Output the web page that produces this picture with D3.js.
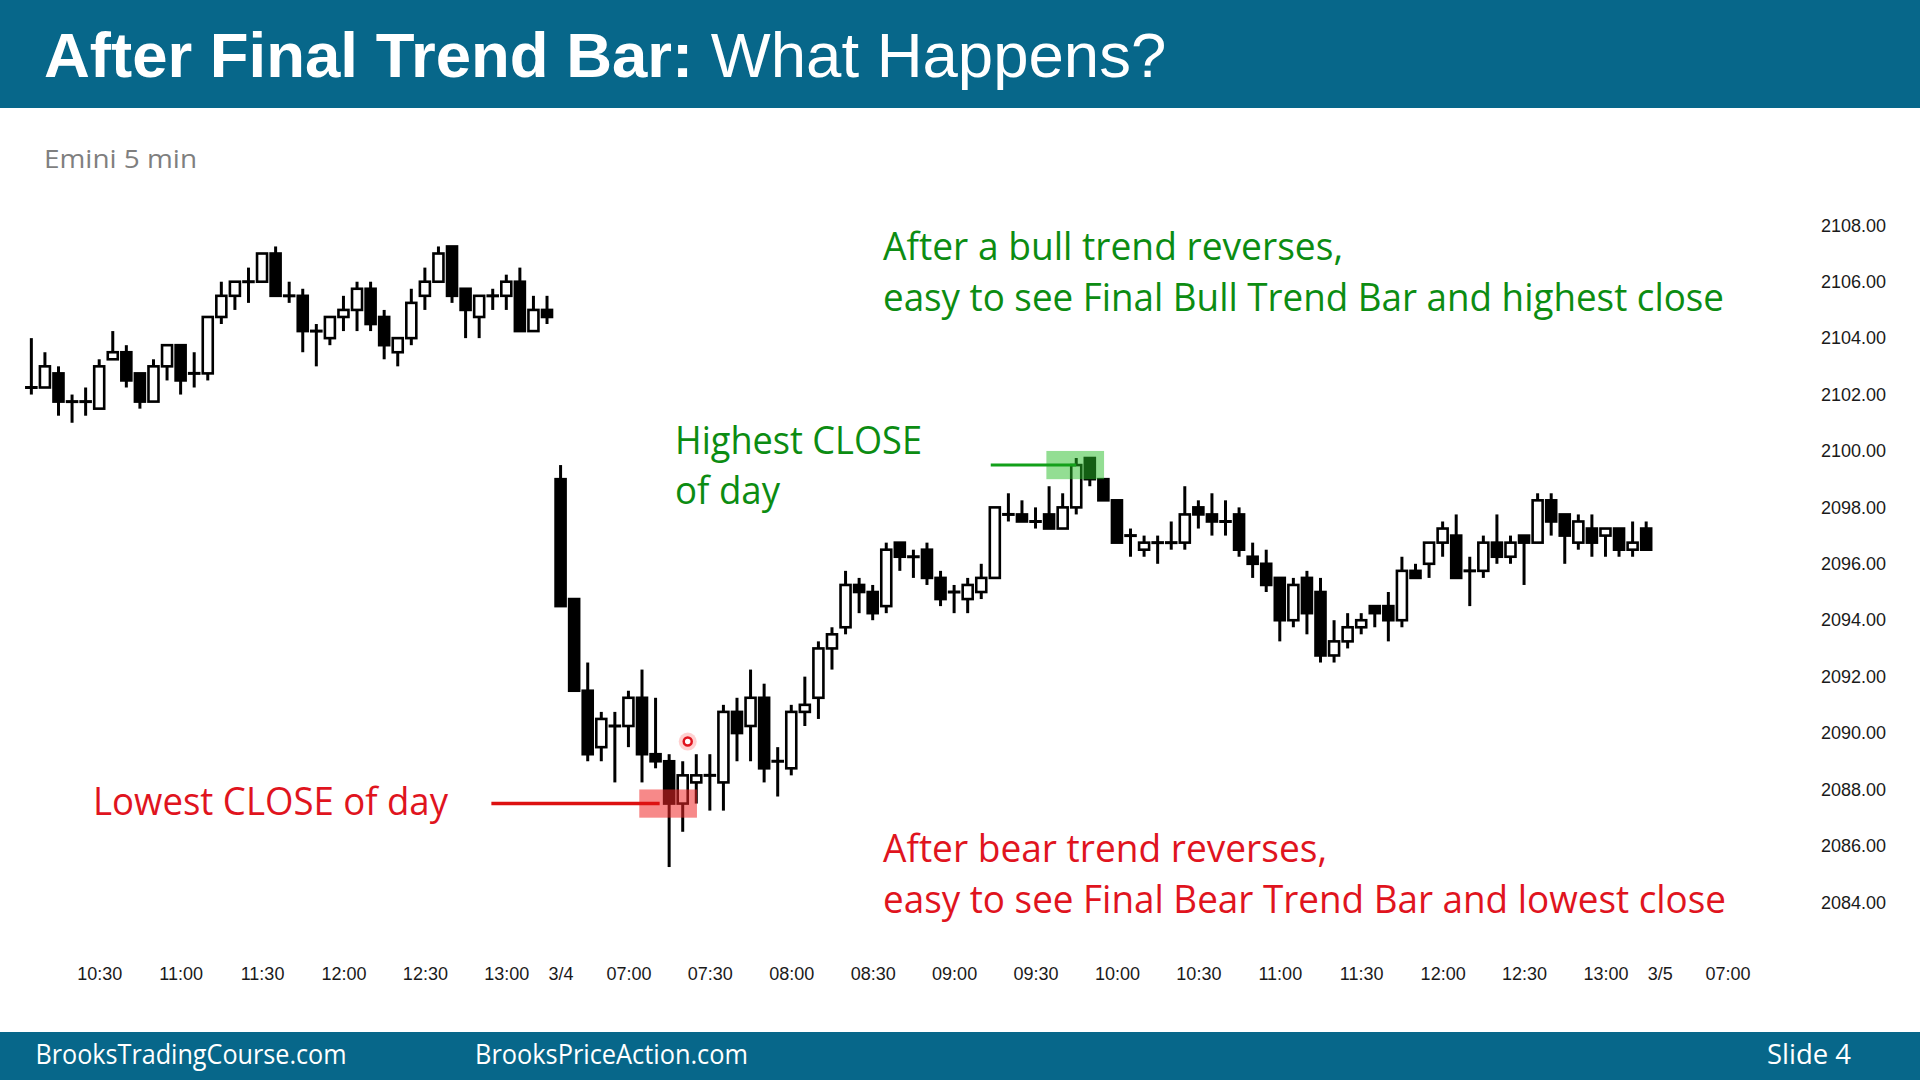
<!DOCTYPE html>
<html><head><meta charset="utf-8">
<script src="https://cdn.jsdelivr.net/npm/d3@7"></script>
<style>body{margin:0;background:#fff;}svg{display:block}</style>
</head><body>
<svg id="chart" width="1920" height="1080"></svg>
<script>
// ---------------- DATA ----------------
const titleBold = "After Final Trend Bar:";
const titleRegular = "What Happens?";
const subtitle = "Emini 5 min";
const footerLeft = "BrooksTradingCourse.com";
const footerMid = "BrooksPriceAction.com";
const footerRight = "Slide  4";
const bullNote = ["After a bull trend reverses,", "easy to see Final Bull Trend Bar and highest close"];
const bearNote = ["After bear trend reverses,", "easy to see Final Bear Trend Bar and lowest close"];
const highNote = ["Highest CLOSE", "of day"];
const lowNote = ["Lowest CLOSE of day"];

const priceTicks = [2084, 2086, 2088, 2090, 2092, 2094, 2096, 2098, 2100, 2102, 2104, 2106, 2108];
// bar slot index of each time label (slot 0 = 10:05 of the prior day)
const timeTickSlots = [5, 11, 17, 23, 29, 35, 39, 44, 50, 56, 62, 68, 74, 80, 86, 92, 98, 104, 110, 116, 120, 125];
const timeTickLabels = ["10:30", "11:00", "11:30", "12:00", "12:30", "13:00", "3/4", "07:00", "07:30", "08:00", "08:30",
  "09:00", "09:30", "10:00", "10:30", "11:00", "11:30", "12:00", "12:30", "13:00", "3/5", "07:00"];

// prior day 10:05 - 13:15, [open, high, low, close]
const priorDayBars = [
  [2102.25, 2104.0, 2102.0, 2102.25], [2102.25, 2103.5, 2102.25, 2103.0], [2102.75, 2103.0, 2101.25, 2101.75],
  [2101.75, 2102.0, 2101.0, 2101.75], [2101.75, 2102.25, 2101.25, 2101.75], [2101.5, 2103.25, 2101.5, 2103.0],
  [2103.25, 2104.25, 2103.25, 2103.5], [2103.5, 2103.75, 2102.25, 2102.5], [2102.75, 2102.75, 2101.5, 2101.75],
  [2101.75, 2103.25, 2101.75, 2103.0], [2103.0, 2103.75, 2102.5, 2103.75], [2103.75, 2103.75, 2102.0, 2102.5],
  [2102.75, 2103.5, 2102.25, 2102.75], [2102.75, 2104.75, 2102.5, 2104.75], [2104.75, 2106.0, 2104.5, 2105.5],
  [2105.5, 2106.0, 2105.0, 2106.0], [2106.0, 2106.5, 2105.25, 2106.0], [2106.0, 2107.0, 2106.0, 2107.0],
  [2107.0, 2107.25, 2105.5, 2105.5], [2105.5, 2106.0, 2105.25, 2105.5], [2105.5, 2105.75, 2103.5, 2104.25],
  [2104.25, 2104.5, 2103.0, 2104.25], [2104.0, 2104.75, 2103.75, 2104.75], [2104.75, 2105.5, 2104.25, 2105.0],
  [2105.0, 2106.0, 2104.25, 2105.75], [2105.75, 2106.0, 2104.25, 2104.5], [2104.75, 2105.0, 2103.25, 2103.75],
  [2103.5, 2104.0, 2103.0, 2104.0], [2104.0, 2105.75, 2103.75, 2105.25], [2105.5, 2106.5, 2105.0, 2106.0],
  [2106.0, 2107.25, 2106.0, 2107.0], [2107.25, 2107.25, 2105.25, 2105.5], [2105.75, 2105.75, 2104.0, 2105.0],
  [2104.75, 2105.5, 2104.0, 2105.5], [2105.5, 2105.75, 2105.0, 2105.5], [2105.5, 2106.25, 2105.0, 2106.0],
  [2106.0, 2106.5, 2104.25, 2104.25], [2104.25, 2105.5, 2104.25, 2105.0], [2105.0, 2105.5, 2104.5, 2104.75]
];

// day 3/4 06:35 - 13:15, [open, high, low, close]
const dayBars = [
  [2099.0, 2099.5, 2094.5, 2094.5], [2094.75, 2094.75, 2091.5, 2091.5], [2091.5, 2092.5, 2089.0, 2089.25],
  [2089.5, 2090.75, 2089.0, 2090.5], [2090.25, 2090.75, 2088.25, 2090.25], [2090.25, 2091.5, 2089.5, 2091.25],
  [2091.25, 2092.25, 2088.25, 2089.25], [2089.25, 2091.25, 2088.75, 2089.0], [2089.0, 2089.25, 2085.25, 2087.5],
  [2087.5, 2089.0, 2086.5, 2088.5], [2088.25, 2089.25, 2087.5, 2088.5], [2088.5, 2089.25, 2087.25, 2088.5],
  [2088.25, 2091.0, 2087.25, 2090.75], [2090.75, 2091.25, 2089.0, 2090.0], [2090.25, 2092.25, 2089.0, 2091.25],
  [2091.25, 2091.75, 2088.25, 2088.75], [2089.0, 2089.5, 2087.75, 2089.0], [2088.75, 2091.0, 2088.5, 2090.75],
  [2090.75, 2092.0, 2090.25, 2091.0], [2091.25, 2093.25, 2090.5, 2093.0], [2093.0, 2093.75, 2092.25, 2093.5],
  [2093.75, 2095.75, 2093.5, 2095.25], [2095.25, 2095.5, 2094.25, 2095.0], [2095.0, 2095.25, 2094.0, 2094.25],
  [2094.5, 2096.75, 2094.25, 2096.5], [2096.75, 2096.75, 2095.75, 2096.25], [2096.25, 2096.5, 2095.5, 2096.25],
  [2096.5, 2096.75, 2095.25, 2095.5], [2095.5, 2095.75, 2094.5, 2094.75], [2095.0, 2095.25, 2094.25, 2095.0],
  [2094.75, 2095.5, 2094.25, 2095.25], [2095.0, 2096.0, 2094.75, 2095.5], [2095.5, 2098.0, 2095.5, 2098.0],
  [2097.75, 2098.5, 2097.5, 2097.75], [2097.75, 2098.25, 2097.5, 2097.5], [2097.5, 2098.0, 2097.25, 2097.5],
  [2097.75, 2098.75, 2097.25, 2097.25], [2097.25, 2098.5, 2097.25, 2098.0], [2098.0, 2099.75, 2097.75, 2099.5],
  [2099.75, 2099.75, 2098.75, 2099.0], [2099.0, 2099.0, 2098.25, 2098.25], [2098.25, 2098.25, 2096.75, 2096.75],
  [2097.0, 2097.25, 2096.25, 2097.0], [2096.5, 2097.0, 2096.25, 2096.75], [2096.75, 2097.0, 2096.0, 2096.75],
  [2096.75, 2097.5, 2096.5, 2096.75], [2096.75, 2098.75, 2096.5, 2097.75], [2098.0, 2098.25, 2097.25, 2097.75],
  [2097.75, 2098.5, 2097.0, 2097.5], [2097.5, 2098.25, 2097.0, 2097.5], [2097.75, 2098.0, 2096.25, 2096.5],
  [2096.25, 2096.75, 2095.5, 2096.0], [2096.0, 2096.5, 2095.0, 2095.25], [2095.5, 2095.5, 2093.25, 2094.0],
  [2094.0, 2095.5, 2093.75, 2095.25], [2095.5, 2095.75, 2093.5, 2094.25], [2095.0, 2095.5, 2092.5, 2092.75],
  [2092.75, 2094.0, 2092.5, 2093.25], [2093.25, 2094.25, 2093.0, 2093.75], [2093.75, 2094.25, 2093.5, 2094.0],
  [2094.5, 2094.5, 2093.75, 2094.25], [2094.5, 2095.0, 2093.25, 2094.0], [2094.0, 2096.25, 2093.75, 2095.75],
  [2095.75, 2096.0, 2095.5, 2095.5], [2096.0, 2096.75, 2095.5, 2096.75], [2096.75, 2097.5, 2096.25, 2097.25],
  [2097.0, 2097.75, 2095.5, 2095.5], [2095.75, 2096.25, 2094.5, 2095.75], [2095.75, 2097.0, 2095.5, 2096.75],
  [2096.75, 2097.75, 2096.0, 2096.25], [2096.25, 2097.0, 2096.0, 2096.75], [2097.0, 2097.0, 2095.25, 2096.75],
  [2096.75, 2098.5, 2096.75, 2098.25], [2098.25, 2098.5, 2097.0, 2097.5], [2097.75, 2097.75, 2096.0, 2097.0],
  [2096.75, 2097.75, 2096.5, 2097.5], [2097.25, 2097.75, 2096.25, 2096.75], [2097.0, 2097.25, 2096.25, 2097.25],
  [2097.25, 2097.25, 2096.25, 2096.5], [2096.5, 2097.5, 2096.25, 2096.75], [2097.25, 2097.5, 2096.5, 2096.5]
];
const highestCloseBar = 38;   // index in dayBars
const lowestCloseBar = 8;     // index in dayBars
const cursorDot = [9.37, 2089.7]; // [day bar index, price]

// ---------------- LAYOUT ----------------
const W = 1920, H = 1080;
const teal = "#07678a";
const green = "#0c8c12";
const red = "#e0141e";
const svg = d3.select("#chart");
svg.append("rect").attr("width", W).attr("height", H).attr("fill", "#ffffff");

const totalSlots = 125;
const x = d3.scaleLinear().domain([0, totalSlots]).range([31.35, 31.35 + 13.57 * totalSlots]);
const y = d3.scaleLinear().domain([2084, 2108]).range([902.3, 225.3]);

const bars = priorDayBars.map((b, i) => ({ slot: i, o: b[0], h: b[1], l: b[2], c: b[3] }))
  .concat(dayBars.map((b, i) => ({ slot: priorDayBars.length + i, o: b[0], h: b[1], l: b[2], c: b[3] })));
const daySlot = i => priorDayBars.length + i;

// header & footer
svg.append("rect").attr("x", 0).attr("y", 0).attr("width", W).attr("height", 108).attr("fill", teal);
svg.append("rect").attr("x", 0).attr("y", 1032).attr("width", W).attr("height", 48).attr("fill", teal);

const title = svg.append("text").attr("x", 44).attr("y", 77).attr("fill", "#fff")
  .style("font-family", "'Liberation Sans', Arial, sans-serif").style("font-size", "63.5px");
title.append("tspan").style("font-weight", "bold").text(titleBold);
title.append("tspan").text(" " + titleRegular);

const sans = "'Open Sans', 'Noto Sans', sans-serif";
function label(txt, xx, yy, size, color, len) {
  const t = svg.append("text").attr("x", xx).attr("y", yy).attr("fill", color)
    .style("font-family", sans).style("font-size", size + "px").text(txt);
  if (len) t.attr("textLength", len).attr("lengthAdjust", "spacingAndGlyphs");
  return t;
}
label(subtitle, 44, 168, 26, "#7f7f7f", 153);
label(footerLeft, 35.5, 1064, 27, "#fff", 311);
label(footerMid, 475, 1064, 27, "#fff", 273);
label(footerRight, 1767, 1064, 27, "#fff", 84);

// axes
const yAxis = d3.axisRight(y).tickValues(priceTicks).tickFormat(d3.format(".2f")).tickSize(0).tickPadding(0);
const gy = svg.append("g").attr("transform", "translate(1821,0)").call(yAxis);
gy.select(".domain").remove();
gy.selectAll("text").style("font-family", "'Liberation Sans', Arial, sans-serif").style("font-size", "18px").attr("fill", "#1a1a1a");

const xAxis = d3.axisBottom(x).tickValues(timeTickSlots).tickFormat((d, i) => timeTickLabels[i]).tickSize(0).tickPadding(4);
const gx = svg.append("g").attr("transform", "translate(0,963)").call(xAxis);
gx.select(".domain").remove();
gx.selectAll("text").style("font-family", "'Liberation Sans', Arial, sans-serif").style("font-size", "18px").attr("fill", "#1a1a1a");

// candles
const bodyW = 10, stroke = 2.6;
const g = svg.append("g");
g.selectAll("line.wick").data(bars).join("line").attr("class", "wick")
  .attr("x1", d => x(d.slot)).attr("x2", d => x(d.slot))
  .attr("y1", d => y(d.h)).attr("y2", d => y(d.l))
  .attr("stroke", "#000").attr("stroke-width", 3);
g.selectAll("rect.body").data(bars.filter(d => d.o !== d.c)).join("rect").attr("class", "body")
  .attr("x", d => x(d.slot) - bodyW / 2).attr("width", bodyW)
  .attr("y", d => y(Math.max(d.o, d.c))).attr("height", d => Math.abs(y(d.o) - y(d.c)))
  .attr("fill", d => d.c > d.o ? "#fff" : "#000")
  .attr("stroke", "#000").attr("stroke-width", stroke);
g.selectAll("line.doji").data(bars.filter(d => d.o === d.c)).join("line").attr("class", "doji")
  .attr("x1", d => x(d.slot) - (bodyW + stroke) / 2).attr("x2", d => x(d.slot) + (bodyW + stroke) / 2)
  .attr("y1", d => y(d.c)).attr("y2", d => y(d.c))
  .attr("stroke", "#000").attr("stroke-width", 3);

// annotations
const hb = dayBars[highestCloseBar], lb = dayBars[lowestCloseBar];
const hs = daySlot(highestCloseBar), ls = daySlot(lowestCloseBar);
svg.append("rect").attr("x", x(hs - 2.2)).attr("width", x(hs + 2.05) - x(hs - 2.2))
  .attr("y", y(hb[3] + 0.5)).attr("height", y(hb[3] - 0.5) - y(hb[3] + 0.5))
  .attr("fill", "rgba(40,190,40,0.5)");
svg.append("line").attr("x1", x(hs - 6.3)).attr("x2", x(hs)).attr("y1", y(hb[3])).attr("y2", y(hb[3]))
  .attr("stroke", "#13a01a").attr("stroke-width", 3);
svg.append("rect").attr("x", x(ls - 2.2)).attr("width", x(ls + 2.05) - x(ls - 2.2))
  .attr("y", y(lb[3] + 0.5)).attr("height", y(lb[3] - 0.5) - y(lb[3] + 0.5))
  .attr("fill", "rgba(240,40,40,0.55)");
svg.append("line").attr("x1", x(ls - 13.1)).attr("x2", x(ls - 0.7)).attr("y1", y(lb[3])).attr("y2", y(lb[3]))
  .attr("stroke", "#dd1111").attr("stroke-width", 3.5);
svg.append("circle").attr("cx", x(daySlot(cursorDot[0]))).attr("cy", y(cursorDot[1])).attr("r", 9)
  .attr("fill", "rgba(255,120,120,0.35)");
svg.append("circle").attr("cx", x(daySlot(cursorDot[0]))).attr("cy", y(cursorDot[1])).attr("r", 4)
  .attr("fill", "#fff").attr("stroke", red).attr("stroke-width", 2.5);

label(bullNote[0], 883, 260, 38, green, 460);
label(bullNote[1], 883, 311, 38, green, 841);
label(highNote[0], 675, 454, 38, green, 247);
label(highNote[1], 675, 504, 38, green, 105);
label(lowNote[0], 93, 815, 38, red, 355);
label(bearNote[0], 883, 862, 38, red, 444);
label(bearNote[1], 883, 913, 38, red, 843);
</script>
</body></html>
